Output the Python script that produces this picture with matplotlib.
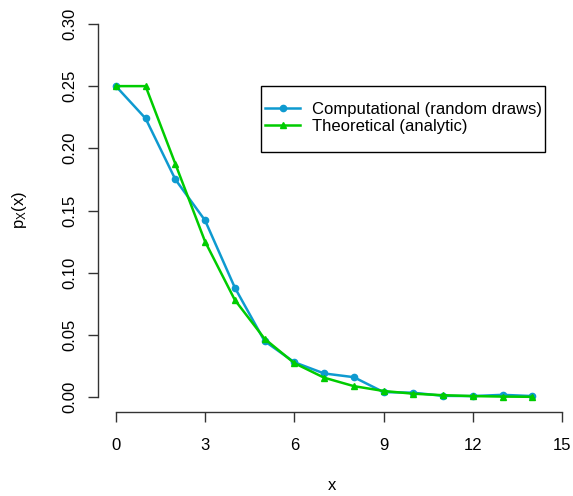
import matplotlib
matplotlib.use("Agg")
import matplotlib.pyplot as plt
from matplotlib.patches import Rectangle

plt.rcParams['font.family'] = ['Liberation Sans', 'DejaVu Sans']
plt.rcParams['mathtext.fontset'] = 'custom'
plt.rcParams['mathtext.rm'] = 'Liberation Sans'
plt.rcParams['mathtext.it'] = 'Liberation Sans'

x = list(range(15))
computational = [0.250, 0.224, 0.175, 0.142, 0.088, 0.045, 0.028, 0.019, 0.016,
                 0.0040, 0.0035, 0.0010, 0.0008, 0.0018, 0.0008]
theoretical = [0.25, 0.25, 0.1875, 0.125, 0.0781, 0.0469, 0.0273, 0.0156, 0.0088,
               0.0049, 0.0027, 0.0015, 0.0008, 0.0004, 0.0002]
xticks = [0, 3, 6, 9, 12, 15]
yticks = [0.00, 0.05, 0.10, 0.15, 0.20, 0.25, 0.30]

W, H = 573, 496
fig = plt.figure(figsize=(W / 100, H / 100), dpi=100)
# plot region in pixels (R style)
left, right, top, bottom = 98, 565, 9, 412
ax = fig.add_axes([left / W, 1 - bottom / H, (right - left) / W, (bottom - top) / H])

blue = '#0E9AD0'
green = '#00CC00'
ax.plot(x, computational, color=blue, lw=1.8, marker='o', ms=4.5,
        label='Computational (random draws)')
ax.plot(x, theoretical, color=green, lw=1.8, marker='^', ms=5,
        label='Theoretical (analytic)')

ax.set_xlim(-0.6, 15.1)
ax.set_ylim(-0.012, 0.312)
ax.set_xticks(xticks)
ax.set_xticklabels([str(t) for t in xticks])
ax.set_yticks(yticks)
ax.set_yticklabels(['%.2f' % t for t in yticks], rotation=90, va='center')

for s in ['top', 'right']:
    ax.spines[s].set_visible(False)
ax.spines['left'].set_bounds(0, 0.30)
ax.spines['bottom'].set_bounds(0, 15)
for s in ['left', 'bottom']:
    ax.spines[s].set_color('#333333')
    ax.spines[s].set_linewidth(1)
fs = 12
ax.tick_params(length=7, width=1, color='#333333', labelsize=fs, pad=8)
ax.tick_params(axis='x', pad=12)

ax.set_xlabel('x', fontsize=fs, labelpad=18)
ax.set_ylabel(r'p$_{\mathrm{X}}$(x)', fontsize=fs, labelpad=24)

# legend entries without frame, R-like box drawn separately
lx, ly = 265, 102
leg = ax.legend(loc='upper left', bbox_to_anchor=((lx - left) / (right - left), 1 - (ly - top) / (bottom - top)),
                fontsize=fs, frameon=False, borderpad=0, handlelength=2.1,
                handletextpad=0.75, labelspacing=0.1, borderaxespad=0)
fig.add_artist(Rectangle((261 / W, 1 - 152 / H), (545 - 261) / W, (152 - 86) / H,
                         transform=fig.transFigure, fill=False, ec='black', lw=1))

fig.savefig('out.png', dpi=100)
